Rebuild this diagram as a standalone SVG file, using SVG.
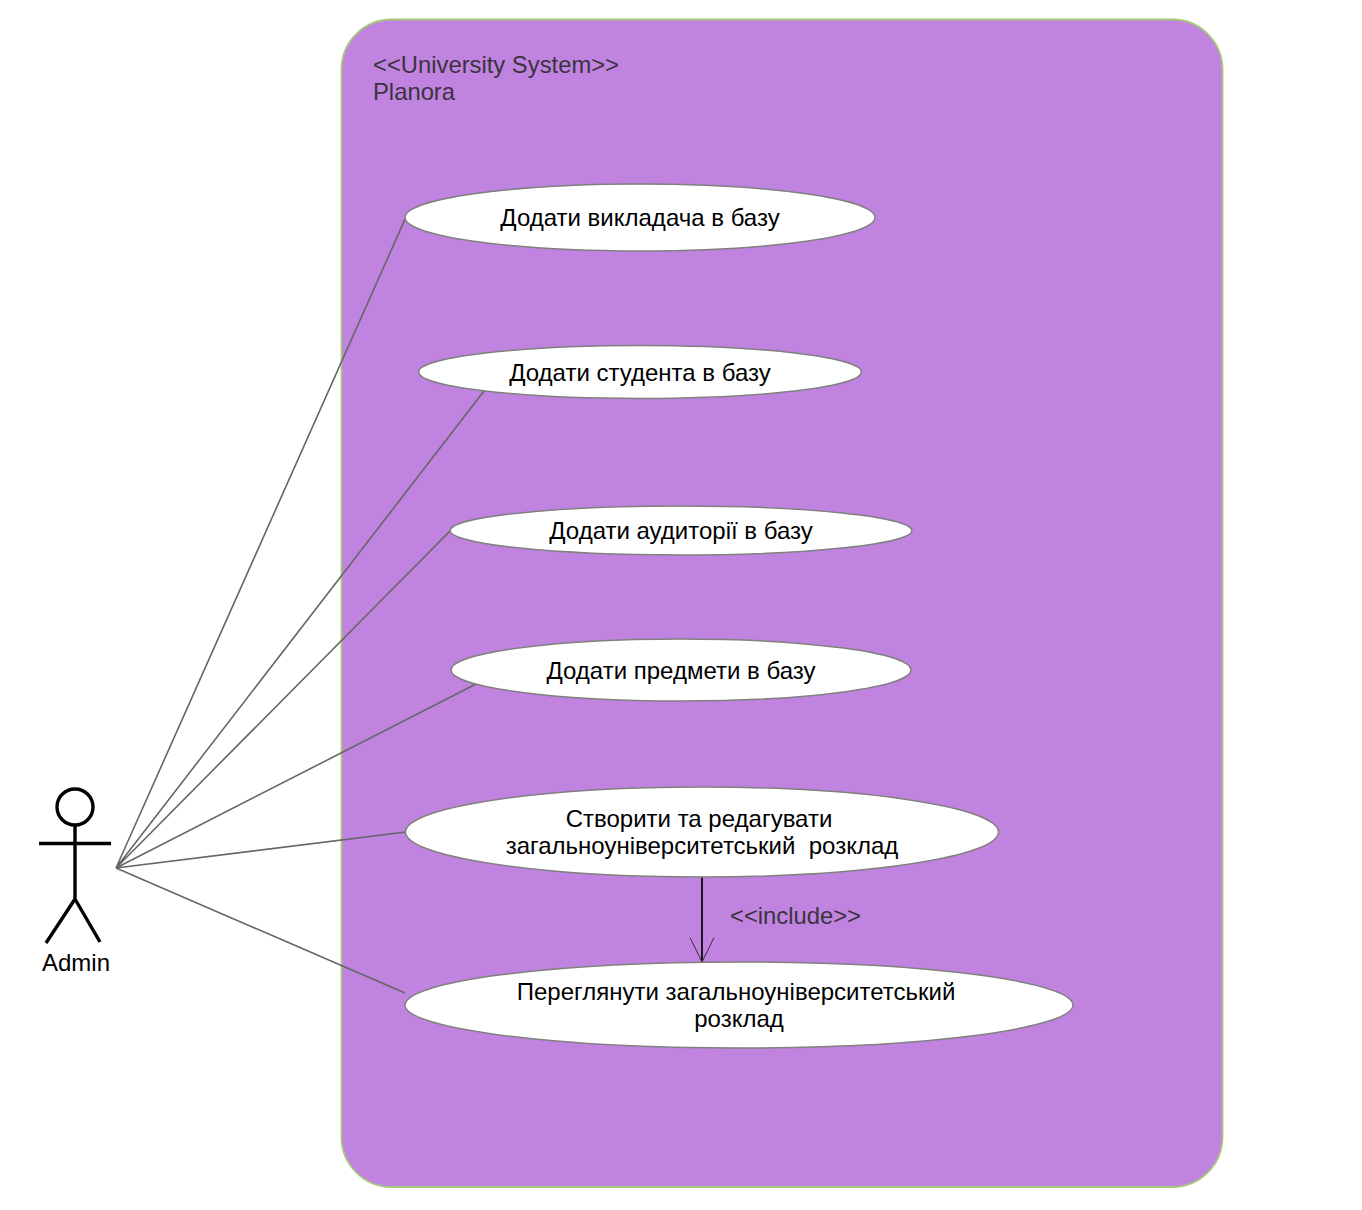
<svg xmlns="http://www.w3.org/2000/svg" width="1362" height="1210" viewBox="0 0 1362 1210">
<style>
text{font-family:"Liberation Sans",Arial,sans-serif;font-size:24px;fill:#000;text-anchor:middle;white-space:pre}
.sys{fill:#3a3340;text-anchor:start;font-size:23.800px}
.uc{fill:#fff;stroke:#808080;stroke-width:1.500}
.c{fill:none;stroke:#666;stroke-width:1.600}
.a{fill:none;stroke:#000;stroke-width:3.400}
</style>
<rect width="1362" height="1210" fill="#fff"/>
<g id="system"><rect x="341.500" y="19.500" width="881" height="1167.500" rx="50" fill="#c083df" stroke="#a6c77c" stroke-width="1.800"/>
<text class="sys" x="373" y="73">&lt;&lt;University System&gt;&gt;</text><text class="sys" x="373" y="100">Planora</text></g>
<g id="connectors">
<path class="c" d="M116 868L406 217M116 868L484 391M116 868L451 530M116 868L476 684M116 868L406 832M116 868L405 993"/>
<path d="M702 877V962" fill="none" stroke="#000" stroke-width="1.700"/>
<path d="M690 937.500L702 962L714 937.500" fill="none" stroke="#333" stroke-width="1"/>
<text class="sys" x="730" y="924">&lt;&lt;include&gt;&gt;</text>
</g>
<g id="uc1"><ellipse class="uc" cx="640" cy="217.500" rx="235" ry="33.500"/><text x="640" y="226">Додати викладача в базу</text></g>
<g id="uc2"><ellipse class="uc" cx="640" cy="372" rx="221.500" ry="26.500"/><text x="640" y="381">Додати студента в базу</text></g>
<g id="uc3"><ellipse class="uc" cx="681" cy="530.500" rx="231" ry="24.500"/><text x="681" y="539">Додати аудиторії в базу</text></g>
<g id="uc4"><ellipse class="uc" cx="681" cy="670" rx="230" ry="31"/><text x="681" y="679">Додати предмети в базу</text></g>
<g id="uc5"><ellipse class="uc" cx="702" cy="832" rx="296.500" ry="45"/><text x="699" y="827">Створити та редагувати</text><text x="702" y="854">загальноуніверситетський  розклад</text></g>
<g id="uc6"><ellipse class="uc" cx="739" cy="1005" rx="334" ry="43"/><text x="736" y="1000">Переглянути загальноуніверситетський</text><text x="739" y="1027">розклад</text></g>
<g id="admin"><circle class="a" cx="75" cy="807" r="18"/><path class="a" d="M75 825V899M39 843.500H111M75 899L46 943M75 899L100 942"/><text x="76" y="971">Admin</text></g>
</svg>
